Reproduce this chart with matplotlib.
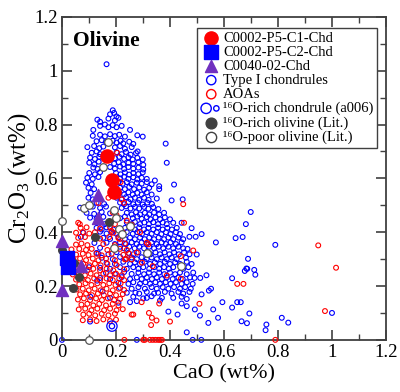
import numpy as np
import matplotlib
matplotlib.use("Agg")
import matplotlib.pyplot as plt
from matplotlib.legend_handler import HandlerTuple
from matplotlib.ticker import MultipleLocator

plt.rcParams['font.family'] = ['Liberation Serif', 'DejaVu Serif']
plt.rcParams['mathtext.fontset'] = 'custom'
plt.rcParams['mathtext.rm'] = 'Liberation Serif'
plt.rcParams['mathtext.it'] = 'Liberation Serif:italic'

# Type I chondrules (CaO, Cr2O3)
type1 = [
    (0.188,0.853),(0.193,0.843),(0.202,0.83),(0.178,0.838),
    (0.131,0.818),(0.141,0.81),(0.172,0.822),(0.196,0.815),(0.209,0.825),
    (0.141,0.795),(0.159,0.8),(0.172,0.79),(0.188,0.798),(0.202,0.79),(0.221,0.795),(0.252,0.78),(0.116,0.78),
    (0.114,0.758),(0.141,0.762),(0.159,0.756),(0.178,0.764),(0.196,0.757),(0.212,0.762),(0.233,0.755),(0.279,0.76),(0.299,0.755),
    (0.128,0.738),(0.147,0.742),(0.163,0.735),(0.188,0.74),(0.202,0.733),(0.217,0.74),(0.227,0.73),(0.249,0.736),(0.264,0.728),
    (0.094,0.716),(0.119,0.72),(0.138,0.712),(0.153,0.718),(0.196,0.715),(0.215,0.72),(0.233,0.71),(0.258,0.716),(0.28,0.7),
    (0.11,0.695),(0.128,0.7),(0.141,0.69),(0.202,0.697),(0.221,0.69),(0.237,0.698),(0.254,0.688),(0.274,0.694),
    (0.104,0.677),(0.122,0.672),(0.138,0.68),(0.196,0.675),(0.212,0.68),(0.23,0.672),(0.246,0.678),(0.262,0.67),(0.279,0.676),(0.299,0.67),
    (0.101,0.658),(0.12,0.652),(0.136,0.662),(0.193,0.655),(0.21,0.66),(0.227,0.652),(0.246,0.658),(0.264,0.654),(0.283,0.66),(0.301,0.65),(0.388,0.658),
    (0.116,0.64),(0.132,0.635),(0.178,0.642),(0.196,0.636),(0.215,0.644),(0.23,0.635),(0.246,0.642),(0.264,0.636),(0.283,0.64),(0.301,0.633),
    (0.101,0.62),(0.122,0.615),(0.141,0.623),(0.2,0.62),(0.217,0.615),(0.233,0.622),(0.249,0.614),(0.264,0.62),(0.283,0.616),(0.299,0.622),
    (0.094,0.602),(0.114,0.598),(0.135,0.605),(0.215,0.6),(0.23,0.606),(0.246,0.598),(0.264,0.604),(0.279,0.596),(0.295,0.602),(0.314,0.598),
    (0.089,0.584),(0.11,0.578),(0.209,0.586),(0.225,0.58),(0.24,0.586),(0.258,0.578),(0.277,0.584),(0.295,0.58),(0.314,0.586),(0.332,0.578),(0.344,0.592),(0.36,0.571),(0.415,0.577),
    (0.098,0.565),(0.119,0.56),(0.215,0.565),(0.233,0.56),(0.249,0.568),(0.267,0.56),(0.286,0.566),(0.304,0.558),(0.323,0.565),(0.36,0.56),
    (0.106,0.546),(0.212,0.546),(0.23,0.54),(0.246,0.548),(0.262,0.54),(0.279,0.546),(0.295,0.54),(0.314,0.548),(0.332,0.54),
    (0.098,0.528),(0.114,0.522),(0.202,0.528),(0.221,0.522),(0.237,0.53),(0.254,0.522),(0.27,0.528),(0.286,0.52),(0.304,0.528),(0.321,0.52),(0.351,0.525),(0.406,0.518),(0.447,0.522),
    (0.128,0.509),(0.156,0.505),(0.215,0.51),(0.23,0.504),(0.247,0.512),(0.264,0.504),(0.281,0.51),(0.299,0.503),(0.316,0.51),(0.333,0.505),
    (0.067,0.491),(0.114,0.495),(0.141,0.49),(0.163,0.495),(0.221,0.49),(0.237,0.496),(0.254,0.488),(0.27,0.494),(0.286,0.488),(0.304,0.494),(0.32,0.487),(0.338,0.493),(0.357,0.486),
    (0.091,0.472),(0.119,0.468),(0.147,0.475),(0.178,0.47),(0.24,0.472),(0.258,0.466),(0.274,0.474),(0.289,0.466),(0.307,0.472),(0.323,0.466),(0.341,0.473),(0.36,0.466),(0.378,0.472),
    (0.104,0.454),(0.128,0.45),(0.153,0.457),(0.215,0.452),(0.233,0.458),(0.262,0.452),(0.279,0.458),(0.295,0.45),(0.314,0.456),(0.328,0.448),(0.346,0.455),(0.363,0.448),(0.381,0.455),(0.4,0.448),
    (0.141,0.435),(0.159,0.43),(0.24,0.436),(0.258,0.43),(0.27,0.438),(0.289,0.43),(0.305,0.436),(0.322,0.43),(0.338,0.437),(0.356,0.43),(0.373,0.436),(0.388,0.43),(0.412,0.435),(0.443,0.435),
    (0.128,0.416),(0.147,0.41),(0.165,0.418),(0.19,0.41),(0.233,0.416),(0.27,0.41),(0.286,0.418),(0.304,0.41),(0.32,0.416),(0.338,0.41),(0.356,0.417),(0.373,0.41),(0.39,0.416),(0.407,0.41),(0.425,0.416),(0.48,0.415),
    (0.079,0.398),(0.141,0.402),(0.165,0.395),(0.184,0.4),(0.202,0.394),(0.24,0.4),(0.262,0.394),(0.279,0.4),(0.296,0.393),(0.314,0.4),(0.332,0.394),(0.351,0.4),(0.368,0.393),(0.385,0.4),(0.402,0.393),(0.422,0.4),(0.437,0.393),(0.517,0.393),
    (0.153,0.379),(0.178,0.375),(0.209,0.382),(0.233,0.375),(0.252,0.38),(0.27,0.374),(0.289,0.38),(0.306,0.374),(0.323,0.38),(0.341,0.374),(0.358,0.38),(0.378,0.374),(0.394,0.38),(0.412,0.374),(0.431,0.38),(0.449,0.374),(0.472,0.383),(0.495,0.383),(0.57,0.362),(0.643,0.378),(0.669,0.382),(0.07,0.383),
    (0.165,0.361),(0.196,0.356),(0.215,0.362),(0.237,0.356),(0.258,0.362),(0.277,0.356),(0.295,0.362),(0.314,0.356),(0.332,0.362),(0.351,0.356),(0.369,0.362),(0.385,0.356),(0.402,0.362),(0.422,0.356),(0.443,0.362),
    (0.141,0.342),(0.215,0.346),(0.23,0.34),(0.249,0.346),(0.269,0.34),(0.286,0.346),(0.304,0.34),(0.323,0.346),(0.341,0.34),(0.358,0.346),(0.375,0.34),(0.394,0.346),(0.412,0.34),(0.431,0.346),(0.449,0.34),(0.465,0.338),
    (0.128,0.323),(0.172,0.318),(0.202,0.326),(0.246,0.323),(0.264,0.318),(0.283,0.325),(0.328,0.318),(0.346,0.325),(0.363,0.318),(0.38,0.325),(0.398,0.318),(0.415,0.325),(0.433,0.318),(0.452,0.325),(0.472,0.318),(0.499,0.317),
    (0.147,0.305),(0.188,0.3),(0.215,0.308),(0.237,0.3),(0.258,0.306),(0.277,0.3),(0.295,0.307),(0.314,0.3),(0.332,0.306),(0.351,0.3),(0.369,0.306),(0.388,0.3),(0.406,0.306),(0.425,0.3),(0.459,0.305),(0.689,0.301),
    (0.165,0.286),(0.196,0.282),(0.227,0.29),(0.252,0.282),(0.27,0.288),(0.289,0.282),(0.307,0.29),(0.326,0.282),(0.344,0.288),(0.363,0.282),(0.381,0.29),(0.4,0.282),(0.419,0.288),(0.437,0.282),(0.462,0.29),(0.48,0.282),
    (0.141,0.268),(0.178,0.264),(0.215,0.27),(0.24,0.264),(0.264,0.27),(0.283,0.264),(0.301,0.27),(0.323,0.264),(0.341,0.27),(0.36,0.264),(0.378,0.27),(0.396,0.264),(0.412,0.27),(0.449,0.264),(0.468,0.27),(0.683,0.265),(0.712,0.26),(0.677,0.256),
    (0.163,0.249),(0.196,0.245),(0.23,0.252),(0.258,0.245),(0.283,0.25),(0.304,0.244),(0.322,0.25),(0.341,0.244),(0.36,0.25),(0.379,0.244),(0.4,0.25),(0.419,0.244),(0.437,0.25),(0.462,0.244),(0.486,0.25),(0.716,0.242),
    (0.141,0.23),(0.178,0.226),(0.221,0.233),(0.252,0.226),(0.277,0.232),(0.295,0.226),(0.314,0.232),(0.333,0.226),(0.351,0.232),(0.37,0.226),(0.388,0.232),(0.41,0.226),(0.431,0.232),(0.447,0.226),(0.474,0.232),(0.491,0.23),(0.512,0.23),(0.535,0.24),(0.63,0.229),
    (0.209,0.212),(0.246,0.208),(0.264,0.214),(0.289,0.208),(0.309,0.214),(0.326,0.208),(0.346,0.214),(0.363,0.208),(0.384,0.214),(0.402,0.208),(0.422,0.214),(0.443,0.208),(0.462,0.214),(0.484,0.208),
    (0.215,0.193),(0.258,0.19),(0.283,0.196),(0.307,0.19),(0.332,0.196),(0.351,0.19),(0.373,0.196),(0.394,0.19),(0.415,0.196),(0.437,0.19),(0.456,0.196),(0.477,0.19),(0.552,0.19),(0.544,0.183),
    (0.24,0.175),(0.286,0.172),(0.314,0.178),(0.341,0.172),(0.381,0.178),(0.406,0.172),(0.431,0.178),(0.449,0.172),(0.472,0.178),(0.517,0.169),(0.356,0.175),(0.272,0.175),
    (0.178,0.156),(0.264,0.16),(0.301,0.154),(0.37,0.156),(0.332,0.162),(0.314,0.156),(0.363,0.146),(0.412,0.156),(0.443,0.16),(0.462,0.152),
    (0.209,0.138),(0.252,0.14),(0.277,0.144),(0.443,0.135),(0.462,0.125),(0.492,0.113),(0.594,0.14),(0.63,0.12),(0.649,0.14),(0.662,0.14),
    (0.394,0.105),(0.428,0.094),(0.511,0.09),(0.56,0.113),(0.578,0.082),(0.542,0.063),(0.462,0.028),(0.694,0.098),(0.665,0.069),
    (0.685,0.062),(0.757,0.057),(0.754,0.036),(0.814,0.082),(0.838,0.064),(1.0,0.1),(0.104,0.068),(0.165,1.024),(0.384,0.729),
    (0.699,0.475),(0.681,0.43),(0.79,0.353),(0.686,0.264),
    (0.12,0.36),(0.135,0.32),(0.10,0.27),(0.13,0.22),(0.105,0.16),(0.15,0.18),
    (0.0,0.0),(0.277,0.0),(0.484,0.0),(0.516,0.0),
]

# AOAs
aoa = [
    (0.06,0.435),(0.066,0.43),(0.178,0.435),(0.196,0.43),
    (0.069,0.416),(0.091,0.418),(0.141,0.414),(0.178,0.418),
    (0.052,0.398),(0.077,0.4),(0.101,0.395),(0.122,0.4),(0.19,0.398),
    (0.06,0.379),(0.085,0.382),(0.141,0.376),(0.175,0.382),(0.209,0.378),
    (0.052,0.354),(0.072,0.358),(0.094,0.352),(0.153,0.356),(0.196,0.352),(0.233,0.358),(0.32,0.355),
    (0.035,0.336),(0.064,0.338),(0.089,0.334),(0.11,0.338),(0.168,0.334),(0.215,0.338),(0.24,0.334),
    (0.052,0.317),(0.077,0.32),(0.098,0.315),(0.128,0.32),(0.147,0.314),(0.184,0.32),(0.227,0.316),(0.249,0.32),
    (0.042,0.299),(0.067,0.302),(0.089,0.296),(0.114,0.302),(0.135,0.296),(0.163,0.302),(0.196,0.296),(0.237,0.3),
    (0.057,0.28),(0.079,0.283),(0.101,0.277),(0.122,0.283),(0.143,0.277),(0.168,0.282),(0.202,0.278),
    (0.044,0.261),(0.069,0.264),(0.094,0.258),(0.116,0.264),(0.141,0.258),(0.165,0.264),(0.19,0.258),(0.23,0.262),
    (0.04,0.243),(0.062,0.246),(0.085,0.24),(0.106,0.246),(0.128,0.24),(0.153,0.246),(0.178,0.24),(0.2,0.246),(0.221,0.24),
    (0.052,0.224),(0.074,0.228),(0.096,0.222),(0.119,0.228),(0.141,0.222),(0.165,0.228),(0.188,0.222),(0.212,0.228),(0.23,0.222),
    (0.064,0.206),(0.087,0.21),(0.109,0.204),(0.131,0.21),(0.153,0.204),(0.175,0.21),(0.198,0.204),(0.217,0.21),
    (0.054,0.187),(0.077,0.19),(0.099,0.184),(0.121,0.19),(0.143,0.184),(0.165,0.19),(0.188,0.184),(0.21,0.19),(0.23,0.185),
    (0.067,0.169),(0.089,0.172),(0.111,0.166),(0.133,0.172),(0.155,0.166),(0.178,0.172),(0.2,0.166),(0.225,0.17),
    (0.059,0.15),(0.081,0.154),(0.104,0.148),(0.126,0.154),(0.148,0.148),(0.17,0.154),(0.193,0.148),(0.215,0.152),
    (0.072,0.131),(0.094,0.134),(0.116,0.128),(0.138,0.134),(0.163,0.128),(0.188,0.134),(0.209,0.128),
    (0.062,0.113),(0.086,0.116),(0.109,0.11),(0.131,0.116),(0.156,0.11),(0.178,0.116),(0.202,0.11),(0.225,0.114),
    (0.079,0.094),(0.101,0.097),(0.123,0.091),(0.147,0.097),(0.172,0.091),(0.196,0.097),(0.258,0.094),(0.264,0.094),
    (0.077,0.073),(0.104,0.076),(0.128,0.07),(0.153,0.076),(0.178,0.07),(0.2,0.075),
    (0.204,0.695),(0.217,0.586),(0.19,0.54),(0.221,0.522),(0.23,0.509),(0.172,0.528),(0.135,0.509),(0.188,0.473),
    (0.202,0.463),(0.24,0.443),(0.225,0.4),(0.258,0.428),(0.289,0.4),(0.314,0.361),(0.183,0.405),(0.215,0.375),
    (0.233,0.299),(0.258,0.299),(0.277,0.324),(0.296,0.287),(0.336,0.274),(0.388,0.239),(0.44,0.311),(0.449,0.504),
    (0.452,0.435),(0.486,0.332),(0.44,0.227),(0.509,0.134),(0.649,0.208),(0.672,0.208),(0.949,0.351),(1.015,0.268),
    (0.974,0.107),(0.4,0.068),(0.36,0.135),(0.295,0.14),(0.322,0.1),(0.333,0.082),(0.35,0.072),(0.33,0.055),
    (0.231,0.0),(0.301,0.0),(0.307,0.0),(0.326,0.0),(0.336,0.0),(0.346,0.0),(0.356,0.0),(0.363,0.0),(0.37,0.0),(0.79,0.0),
]

c1_cao = [0.165, 0.186, 0.194]
c1_cr = [0.683, 0.593, 0.550]
c2_cao = [0.020, 0.022]
c2_cr = [0.305, 0.272]
c40_cao = [0.0, 0.0, 0.069, 0.135, 0.135]
c40_cr = [0.367, 0.187, 0.274, 0.540, 0.453]
a006_cao = [0.185]
a006_cr = [0.051]
rich_cao = [0.0, 0.042, 0.062, 0.044, 0.122, 0.173]
rich_cr = [0.333, 0.193, 0.233, 0.286, 0.383, 0.437]
poor_cao = [0.0, 0.101, 0.172, 0.153, 0.081, 0.101, 0.193, 0.2, 0.212, 0.222, 0.252, 0.193, 0.314, 0.441]
poor_cr = [0.441, 0.0, 0.736, 0.642, 0.491, 0.5, 0.481, 0.453, 0.413, 0.392, 0.423, 0.342, 0.321, 0.274]

ticks = [0, 0.2, 0.4, 0.6, 0.8, 1.0, 1.2]
tick_labels = ['0', '0.2', '0.4', '0.6', '0.8', '1', '1.2']
legend_labels = ['C0002-P5-C1-Chd', 'C0002-P5-C2-Chd', 'C0040-02-Chd', 'Type I chondrules', 'AOAs',
                 '\u00b9\u2076O-rich chondrule (a006)', '\u00b9\u2076O-rich olivine (Lit.)',
                 '\u00b9\u2076O-poor olivine (Lit.)']

t1 = np.array(type1)
ao = np.array(aoa)

fig = plt.figure(figsize=(4.0, 3.92), dpi=100)
ax = fig.add_axes([0.155, 0.133, 0.81, 0.824])

ax.scatter(t1[:, 0], t1[:, 1], s=12, facecolors='none', edgecolors='#0000ff', linewidths=0.8, zorder=2, clip_on=False)
ax.scatter(ao[:, 0], ao[:, 1], s=12, facecolors='none', edgecolors='#ff0000', linewidths=0.8, zorder=3, clip_on=False)
ax.scatter(poor_cao, poor_cr, s=30, facecolors='white', edgecolors='#555555', linewidths=0.9, zorder=4, clip_on=False)
ax.scatter(rich_cao, rich_cr, s=30, c='#404040', zorder=4, clip_on=False)
ax.scatter(a006_cao, a006_cr, s=55, facecolors='none', edgecolors='#0000ff', linewidths=0.9, zorder=4)
ax.scatter(a006_cao, a006_cr, s=15, facecolors='none', edgecolors='#0000ff', linewidths=0.9, zorder=4)
ax.scatter(c40_cao, c40_cr, s=75, marker='^', c='#7030c0', zorder=5, clip_on=False)
ax.scatter(c2_cao, c2_cr, s=90, marker='s', c='#0000ff', zorder=5, clip_on=False)
ax.scatter(c1_cao, c1_cr, s=90, c='#ff0000', zorder=5)

ax.set_xticks(ticks, tick_labels)
ax.set_yticks(ticks, tick_labels)
ax.xaxis.set_minor_locator(MultipleLocator(0.1))
ax.yaxis.set_minor_locator(MultipleLocator(0.1))
ax.set_xlim(0, 1.2)
ax.set_ylim(0, 1.2)
ax.tick_params(which='both', direction='in', top=True, right=True, labelsize=13.5, color='#404040', pad=3)
ax.tick_params(which='major', length=7, width=1.2)
ax.tick_params(which='minor', length=4, width=1.0)
for sp in ax.spines.values():
    sp.set_color('#404040')
    sp.set_linewidth(1.3)

ax.set_xlabel('CaO (wt%)', fontsize=16, labelpad=2)
ax.set_ylabel('Cr$_2$O$_3$ (wt%)', fontsize=18, labelpad=1)
ax.text(0.034, 0.955, 'Olivine', transform=ax.transAxes, fontsize=15.5, fontweight='bold', va='top', ha='left')

# legend handles
h1 = ax.scatter([], [], s=90, c='#ff0000')
h2 = ax.scatter([], [], s=90, marker='s', c='#0000ff')
h3 = ax.scatter([], [], s=75, marker='^', c='#7030c0')
h4 = ax.scatter([], [], s=45, facecolors='none', edgecolors='#0000ff', linewidths=1.0)
h5 = ax.scatter([], [], s=45, facecolors='none', edgecolors='#ff0000', linewidths=1.0)
h6a = ax.scatter([], [], s=55, facecolors='none', edgecolors='#0000ff', linewidths=1.0)
h6b = ax.scatter([], [], s=15, facecolors='none', edgecolors='#0000ff', linewidths=1.0)
h7 = ax.scatter([], [], s=60, c='#404040')
h8 = ax.scatter([], [], s=55, facecolors='white', edgecolors='#404040', linewidths=1.0)
leg = ax.legend([h1, h2, h3, h4, h5, (h6a, h6b), h7, h8], legend_labels,
                handler_map={tuple: HandlerTuple(ndivide=None, pad=0)},
                loc='upper right', bbox_to_anchor=(0.972, 0.966), borderaxespad=0, fontsize=10.5,
                labelspacing=0.06, handletextpad=0.1, handlelength=1.4, borderpad=0.25,
                fancybox=False, framealpha=1, edgecolor='#404040')
leg.get_frame().set_linewidth(1.0)

fig.savefig('out.png', dpi=100)
